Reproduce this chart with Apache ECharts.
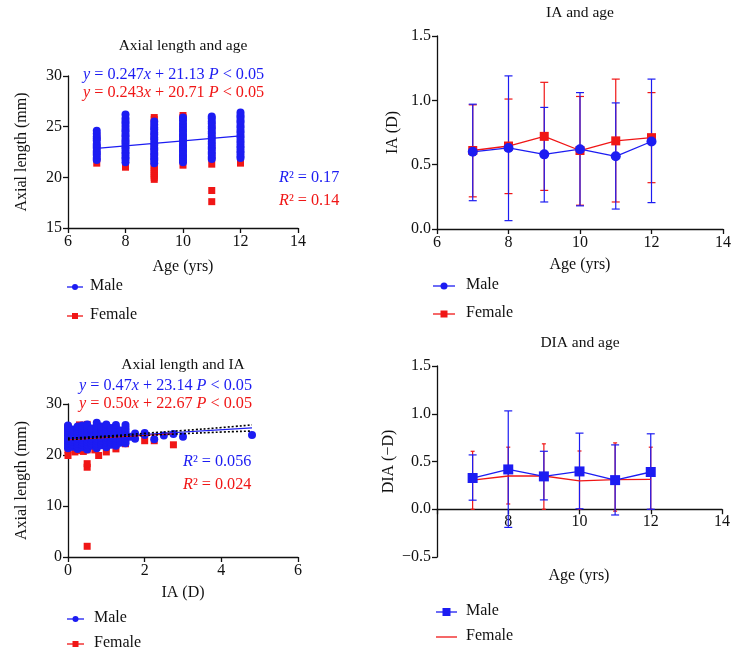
<!DOCTYPE html>
<html><head><meta charset="utf-8">
<script src="https://cdn.jsdelivr.net/npm/echarts@6/dist/echarts.min.js"></script>
<style>html,body{margin:0;padding:0;background:#fff}#c{width:740px;height:659px}</style>
</head><body><div id="c"></div>
<script>
// ---------- Panel A: Axial length vs age ----------
const ageCats = [7, 8, 9, 10, 11, 12];
const alMaleByAge = [
  [21.7, 21.9, 22.2, 22.4, 22.6, 22.9, 23.1, 23.3, 23.6, 23.8, 24.0, 24.3, 24.6],
  [21.5, 21.8, 22.0, 22.3, 22.5, 22.8, 23.0, 23.3, 23.5, 23.7, 24.0, 24.2, 24.5, 24.7, 25.0, 25.3, 25.5, 25.8, 26.2],
  [21.4, 21.7, 21.9, 22.2, 22.4, 22.7, 22.9, 23.2, 23.4, 23.7, 23.9, 24.2, 24.4, 24.7, 24.9, 25.2, 25.5],
  [21.5, 21.7, 22.0, 22.2, 22.5, 22.7, 23.0, 23.2, 23.5, 23.7, 24.0, 24.2, 24.5, 24.7, 25.0, 25.3, 25.6, 25.9],
  [21.8, 22.0, 22.3, 22.5, 22.8, 23.0, 23.3, 23.5, 23.8, 24.0, 24.3, 24.5, 24.8, 25.0, 25.3, 25.5, 25.8, 26.0],
  [21.9, 22.1, 22.4, 22.6, 22.9, 23.1, 23.4, 23.6, 23.9, 24.1, 24.4, 24.6, 24.9, 25.1, 25.4, 25.6, 25.9, 26.1, 26.4]
];
const alFemaleByAge = [
  [21.4, 22.0, 23.0, 24.0],
  [21.0, 21.6, 22.5, 23.5, 24.5, 25.1, 25.3],
  [19.8, 20.0, 20.2, 20.4, 20.6, 20.8, 21.0, 21.2, 22.0, 23.0, 24.0, 25.0, 25.7, 25.9],
  [21.2, 22.0, 23.0, 24.0, 25.0, 25.9, 26.1],
  [17.6, 18.7, 21.3, 22.0, 23.0, 24.0, 25.0],
  [21.4, 22.0, 23.0, 24.0, 25.0]
];
const alAgeMaleFit = [[7, 22.86], [12, 24.09]];

// ---------- Panel B: Axial length vs IA ----------
const iaMaleX = [0, 0.12, 0.25, 0.37, 0.5, 0.62, 0.75, 0.87, 1.0, 1.12, 1.25, 1.37, 1.5];
const iaMaleAL = [
  [21.3, 21.8, 22.3, 22.8, 23.3, 23.8, 24.3, 24.8, 25.3, 25.8],
  [21.6, 22.1, 22.6, 23.1, 23.6, 24.1, 24.6, 25.0],
  [21.2, 21.7, 22.2, 22.7, 23.2, 23.7, 24.2, 24.7, 25.2, 25.6],
  [21.5, 22.0, 22.5, 23.0, 23.5, 24.0, 24.5, 25.0, 25.4, 25.8],
  [21.1, 21.6, 22.1, 22.6, 23.1, 23.6, 24.1, 24.6, 25.1, 25.6, 26.0],
  [21.8, 22.3, 22.8, 23.3, 23.8, 24.3, 24.8, 25.2],
  [21.3, 21.8, 22.3, 22.8, 23.3, 23.8, 24.3, 24.8, 25.3, 25.8, 26.3],
  [21.9, 22.4, 22.9, 23.4, 23.9, 24.4, 24.9, 25.3, 25.6],
  [21.5, 22.0, 22.5, 23.0, 23.5, 24.0, 24.5, 25.0, 25.5, 26.0],
  [22.0, 22.5, 23.0, 23.5, 24.0, 24.5, 25.0, 25.3],
  [21.8, 22.3, 22.8, 23.3, 23.8, 24.3, 24.8, 25.3, 25.9],
  [22.4, 22.9, 23.4, 23.9, 24.4, 24.8],
  [22.3, 22.8, 23.3, 23.8, 24.3, 24.8, 25.3, 25.9]
];
const iaMaleSparse = [[1.62, 23.6], [1.75, 24.2], [1.75, 23.2], [2.0, 24.3], [2.0, 23.9], [2.25, 23.1], [2.5, 23.8], [2.75, 24.1], [3.0, 23.6], [4.8, 23.9]];
const iaFemale = [
  [0, 19.9], [0, 21.0], [0, 22.5], [0, 24.0], [0, 25.5],
  [0.18, 20.6], [0.25, 20.9], [0.25, 22.0], [0.25, 23.5], [0.25, 25.0], [0.3, 25.9],
  [0.4, 20.7], [0.5, 2.1], [0.5, 17.6], [0.5, 18.3], [0.5, 21.0], [0.5, 22.5], [0.5, 24.0], [0.5, 26.0],
  [0.7, 21.0], [0.8, 19.9], [0.75, 23.0], [0.75, 24.5], [0.75, 25.7],
  [1.0, 20.6], [1.0, 22.0], [1.0, 23.5], [1.0, 25.4],
  [1.25, 21.2], [1.25, 22.5], [1.25, 24.0], [1.25, 25.2],
  [1.5, 22.2], [1.5, 23.5], [1.5, 24.5],
  [2.0, 22.8], [2.25, 22.8], [2.75, 22.0]
];
const iaMaleFit = [[0, 23.14], [4.8, 25.3]];
const iaFemaleFit = [[0, 23.0], [2.75, 24.2]];
const iaFitUpper = [[0, 23.3], [1.2, 23.8], [2, 24.25], [3, 24.8], [4, 25.38], [4.8, 25.9]];
const iaFitLower = [[0, 22.98], [1.2, 23.56], [2, 23.83], [3, 24.18], [4, 24.5], [4.8, 24.7]];

// ---------- Panel C: IA and age ----------
const ages = [7, 8, 9, 10, 11, 12];
const iaAgeMale = [0.60, 0.63, 0.58, 0.62, 0.565, 0.68];
const iaAgeMaleLo = [0.22, 0.065, 0.21, 0.18, 0.155, 0.205];
const iaAgeMaleHi = [0.97, 1.19, 0.945, 1.06, 0.98, 1.165];
const iaAgeFemale = [0.61, 0.645, 0.72, 0.61, 0.685, 0.71];
const iaAgeFemaleLo = [0.25, 0.275, 0.30, 0.185, 0.21, 0.36];
const iaAgeFemaleHi = [0.965, 1.01, 1.14, 1.03, 1.165, 1.06];

// ---------- Panel D: DIA and age ----------
const diaMale = [0.327, 0.417, 0.344, 0.396, 0.305, 0.39];
const diaMaleLo = [0.095, -0.19, 0.098, 0.005, -0.06, 0.0];
const diaMaleHi = [0.569, 1.03, 0.607, 0.797, 0.674, 0.79];
const diaFemale = [0.305, 0.348, 0.348, 0.298, 0.31, 0.312];
const diaFemaleLo = [0.0, 0.055, 0.0, 0.0, -0.02, 0.0];
const diaFemaleHi = [0.607, 0.65, 0.685, 0.61, 0.695, 0.65];

const BLUE = '#1c1cf2', RED = '#f01616', INK = '#111';
const FONT = '"Liberation Serif", "Times New Roman", serif';

const toPairs = (xs, ys) => xs.map((x, i) => [x, ys[i]]);
const colPairs = (xs, cols) => xs.flatMap((x, i) => cols[i].map(v => [x, v]));
const triples = (xs, lo, hi) => xs.map((x, i) => [x, lo[i], hi[i]]);

function errBar(capHalf, lw) {
  return function (params, api) {
    const x = api.value(0);
    const lo = api.coord([x, api.value(1)]);
    const hi = api.coord([x, api.value(2)]);
    const st = { stroke: api.visual('color'), lineWidth: lw };
    return { type: 'group', children: [
      { type: 'line', shape: { x1: lo[0], y1: lo[1], x2: hi[0], y2: hi[1] }, style: st },
      { type: 'line', shape: { x1: hi[0] - capHalf, y1: hi[1], x2: hi[0] + capHalf, y2: hi[1] }, style: st },
      { type: 'line', shape: { x1: lo[0] - capHalf, y1: lo[1], x2: lo[0] + capHalf, y2: lo[1] }, style: st }
    ]};
  };
}

const axisCommon = {
  type: 'value',
  axisLine: { show: true, onZero: true, lineStyle: { color: INK, width: 1.3 } },
  axisTick: { show: true, length: 5, lineStyle: { color: INK, width: 1.3 } },
  splitLine: { show: false },
  axisLabel: { color: INK, fontSize: 16, fontFamily: FONT, margin: 6 },
  nameLocation: 'middle',
  nameTextStyle: { color: INK, fontSize: 16, fontFamily: FONT }
};
const ax = (o) => Object.assign({}, axisCommon, o, {
  axisLabel: Object.assign({}, axisCommon.axisLabel, o.axisLabel || {})
});
const fmt1 = v => (v < 0 ? '\u2212' + Math.abs(v).toFixed(1) : v.toFixed(1));

function txt(x, y, text, opts) {
  opts = opts || {};
  return { type: 'text', x: x, y: y, silent: true, style: Object.assign({
    text: text, fill: INK, font: (opts.size || 16) + 'px ' + FONT,
    textAlign: opts.align || 'left', textVerticalAlign: 'middle',
    align: opts.align || 'left', verticalAlign: 'middle'
  }, opts.style || {}) };
}
function richTxt(x, y, text, color, size) {
  const f = { fill: color, fontSize: size, fontFamily: FONT };
  return { type: 'text', x: x, y: y, silent: true, style: {
    text: text, fill: color, font: size + 'px ' + FONT,
    textVerticalAlign: 'middle', verticalAlign: 'middle',
    rich: { i: Object.assign({ fontStyle: 'italic' }, f), n: Object.assign({}, f) }
  } };
}
function legendItem(x1, x2, y, color, marker, msize, label, tx) {
  const els = [{ type: 'line', silent: true, shape: { x1: x1, y1: y, x2: x2, y2: y }, style: { stroke: color, lineWidth: 1.3 } }];
  const cx = (x1 + x2) / 2;
  if (marker === 'circle') els.push({ type: 'circle', silent: true, shape: { cx: cx, cy: y, r: msize / 2 }, style: { fill: color } });
  else if (marker === 'rect') els.push({ type: 'rect', silent: true, shape: { x: cx - msize / 2, y: y - msize / 2, width: msize, height: msize }, style: { fill: color } });
  els.push(txt(tx, y - 1, label, { size: 16 }));
  return els;
}

const EQ = 16.2;
const graphicEls = [
  txt(183, 46, 'Axial length and age', { align: 'center', size: 15.5 }),
  txt(183, 365, 'Axial length and IA', { align: 'center', size: 15.5 }),
  txt(580, 13, 'IA and age', { align: 'center', size: 15.5 }),
  txt(580, 343, 'DIA and age', { align: 'center', size: 15.5 }),
  txt(579, 576, 'Age (yrs)', { align: 'center', size: 16 }),
  richTxt(83, 75, '{i|y}{n| = 0.247}{i|x}{n| + 21.13 }{i|P}{n| < 0.05}', BLUE, EQ),
  richTxt(83, 93, '{i|y}{n| = 0.243}{i|x}{n| + 20.71 }{i|P}{n| < 0.05}', RED, EQ),
  richTxt(279, 178, '{i|R}{n|\u00b2 = 0.17}', BLUE, EQ),
  richTxt(279, 201, '{i|R}{n|\u00b2 = 0.14}', RED, EQ),
  richTxt(79, 386, '{i|y}{n| = 0.47}{i|x}{n| + 23.14 }{i|P}{n| < 0.05}', BLUE, EQ),
  richTxt(79, 404, '{i|y}{n| = 0.50}{i|x}{n| + 22.67 }{i|P}{n| < 0.05}', RED, EQ),
  richTxt(183, 462, '{i|R}{n|\u00b2 = 0.056}', BLUE, EQ),
  richTxt(183, 485, '{i|R}{n|\u00b2 = 0.024}', RED, EQ)
].concat(
  legendItem(67, 83, 287, BLUE, 'circle', 6, 'Male', 90),
  legendItem(67, 83, 316, RED, 'rect', 6, 'Female', 90),
  legendItem(67, 84, 619, BLUE, 'circle', 6, 'Male', 94),
  legendItem(67, 84, 644, RED, 'rect', 6, 'Female', 94),
  legendItem(433, 455, 286, BLUE, 'circle', 7, 'Male', 466),
  legendItem(433, 455, 314, RED, 'rect', 7, 'Female', 466),
  legendItem(436, 457, 612, BLUE, 'rect', 8, 'Male', 466),
  legendItem(436, 457, 637, RED, 'dot', 0, 'Female', 466)
);

const option = {
  animation: false,
  backgroundColor: '#fff',
  grid: [
    { left: 68, top: 76, width: 230, height: 152 },
    { left: 68, top: 404, width: 230, height: 153 },
    { left: 437, top: 36, width: 286, height: 193 },
    { left: 437, top: 366, width: 285, height: 191 }
  ],
  xAxis: [
    ax({ gridIndex: 0, min: 6, max: 14, interval: 2, name: 'Age (yrs)', nameGap: 31 }),
    ax({ gridIndex: 1, min: 0, max: 6, interval: 2, name: 'IA (D)', nameGap: 28 }),
    ax({ gridIndex: 2, min: 6, max: 14, interval: 2, name: 'Age (yrs)', nameGap: 28 }),
    ax({ gridIndex: 3, min: 6, max: 14, interval: 2, axisLabel: { show: false } }),
    // tick labels of panel D, placed along the zero line
    ax({ gridIndex: 3, min: 6, max: 14, interval: 2, position: 'bottom', offset: -49,
         axisLine: { show: false, onZero: false }, axisTick: { show: false },
         axisLabel: { showMinLabel: false } })
  ],
  yAxis: [
    ax({ gridIndex: 0, min: 15, max: 30, interval: 5, name: 'Axial length (mm)', nameGap: 38 }),
    ax({ gridIndex: 1, min: 0, max: 30, interval: 10, name: 'Axial length (mm)', nameGap: 38 }),
    ax({ gridIndex: 2, min: 0, max: 1.5, interval: 0.5, name: 'IA (D)', nameGap: 36, axisLabel: { formatter: fmt1 } }),
    ax({ gridIndex: 3, min: -0.5, max: 1.5, interval: 0.5, name: 'DIA (\u2212D)', nameGap: 40, axisLabel: { formatter: fmt1 } })
  ],
  graphic: { elements: graphicEls },
  series: [
    // Panel A
    { type: 'scatter', name: 'Female', xAxisIndex: 0, yAxisIndex: 0, symbol: 'rect', symbolSize: 7,
      itemStyle: { color: RED, opacity: 1 }, data: colPairs(ageCats, alFemaleByAge) },
    { type: 'scatter', name: 'Male', xAxisIndex: 0, yAxisIndex: 0, symbol: 'circle', symbolSize: 8,
      itemStyle: { color: BLUE, opacity: 1 }, data: colPairs(ageCats, alMaleByAge) },
    { type: 'line', name: 'Male fit', xAxisIndex: 0, yAxisIndex: 0, showSymbol: false,
      lineStyle: { color: BLUE, width: 1.2 }, data: alAgeMaleFit },
    // Panel B
    { type: 'scatter', name: 'Female', xAxisIndex: 1, yAxisIndex: 1, symbol: 'rect', symbolSize: 7,
      itemStyle: { color: RED, opacity: 1 }, data: iaFemale },
    { type: 'line', name: 'Female fit', xAxisIndex: 1, yAxisIndex: 1, showSymbol: false,
      lineStyle: { color: RED, width: 1.2 }, data: iaFemaleFit },
    { type: 'scatter', name: 'Male', xAxisIndex: 1, yAxisIndex: 1, symbol: 'circle', symbolSize: 8,
      itemStyle: { color: BLUE, opacity: 1 }, data: colPairs(iaMaleX, iaMaleAL).concat(iaMaleSparse) },
    { type: 'line', name: 'Male fit', xAxisIndex: 1, yAxisIndex: 1, showSymbol: false,
      lineStyle: { color: BLUE, width: 1.2 }, data: iaMaleFit },
    { type: 'line', name: 'CI upper', xAxisIndex: 1, yAxisIndex: 1, showSymbol: false, smooth: true,
      lineStyle: { color: '#000', width: 1.6, type: [2, 2] }, data: iaFitUpper },
    { type: 'line', name: 'CI lower', xAxisIndex: 1, yAxisIndex: 1, showSymbol: false, smooth: true,
      lineStyle: { color: '#000', width: 1.6, type: [2, 2] }, data: iaFitLower },
    // Panel C
    { type: 'custom', name: 'Female SD', xAxisIndex: 2, yAxisIndex: 2, renderItem: errBar(4, 1.2),
      itemStyle: { color: RED }, encode: { x: 0, y: [1, 2] }, data: triples(ages, iaAgeFemaleLo, iaAgeFemaleHi) },
    { type: 'custom', name: 'Male SD', xAxisIndex: 2, yAxisIndex: 2, renderItem: errBar(4, 1.2),
      itemStyle: { color: BLUE }, encode: { x: 0, y: [1, 2] }, data: triples(ages, iaAgeMaleLo, iaAgeMaleHi) },
    { type: 'line', name: 'Female', xAxisIndex: 2, yAxisIndex: 2, symbol: 'rect', symbolSize: 9,
      itemStyle: { color: RED }, lineStyle: { color: RED, width: 1.3 }, data: toPairs(ages, iaAgeFemale) },
    { type: 'line', name: 'Male', xAxisIndex: 2, yAxisIndex: 2, symbol: 'circle', symbolSize: 10,
      itemStyle: { color: BLUE }, lineStyle: { color: BLUE, width: 1.3 }, data: toPairs(ages, iaAgeMale) },
    // Panel D
    { type: 'custom', name: 'Female SD', xAxisIndex: 3, yAxisIndex: 3, renderItem: errBar(2, 1.2),
      itemStyle: { color: RED }, encode: { x: 0, y: [1, 2] }, data: triples(ages, diaFemaleLo, diaFemaleHi) },
    { type: 'custom', name: 'Male SD', xAxisIndex: 3, yAxisIndex: 3, renderItem: errBar(4, 1.2),
      itemStyle: { color: BLUE }, encode: { x: 0, y: [1, 2] }, data: triples(ages, diaMaleLo, diaMaleHi) },
    { type: 'line', name: 'Female', xAxisIndex: 3, yAxisIndex: 3, showSymbol: false,
      itemStyle: { color: RED }, lineStyle: { color: RED, width: 1.3 }, data: toPairs(ages, diaFemale) },
    { type: 'line', name: 'Male', xAxisIndex: 3, yAxisIndex: 3, symbol: 'rect', symbolSize: 10,
      itemStyle: { color: BLUE }, lineStyle: { color: BLUE, width: 1.3 }, data: toPairs(ages, diaMale) }
  ]
};

const chart = echarts.init(document.getElementById('c'), null, { renderer: 'canvas' });
chart.setOption(option);
</script>
</body></html>
